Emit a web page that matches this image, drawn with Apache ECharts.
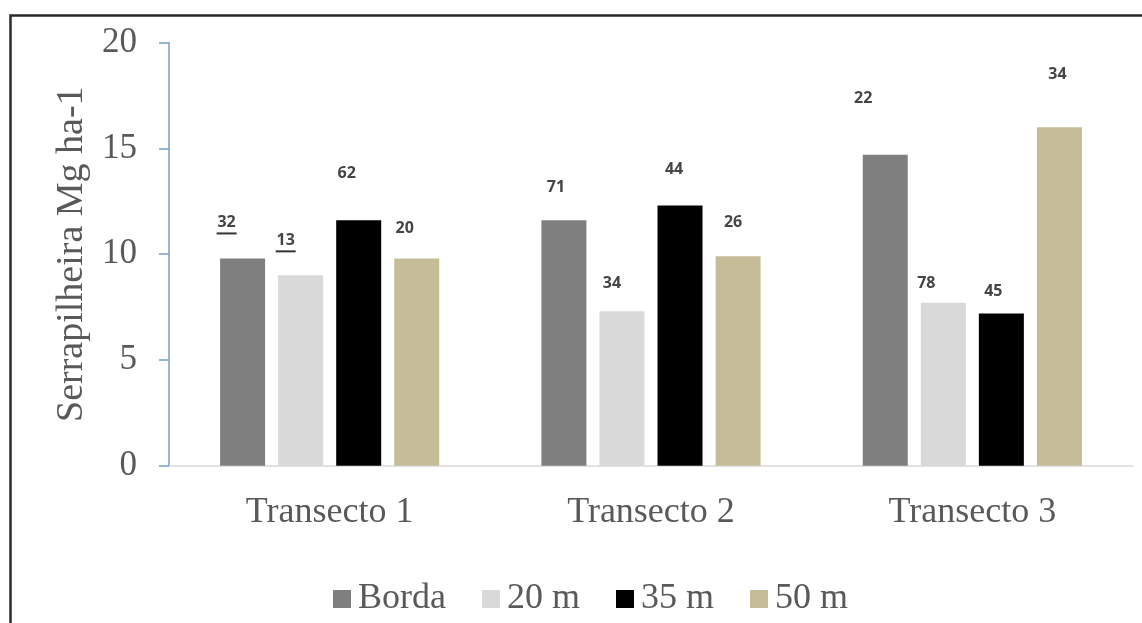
<!DOCTYPE html>
<html>
<head>
<meta charset="utf-8">
<script src="https://cdn.jsdelivr.net/npm/echarts@6/dist/echarts.min.js"></script>
<style>
html,body{margin:0;padding:0;background:#fff;}
#c{width:1142px;height:623px;}
</style>
</head>
<body>
<div id="c"></div>
<script>
// ---- data ----
const categories = ['Transecto 1', 'Transecto 2', 'Transecto 3'];
const seriesNames = ['Borda', '20 m', '35 m', '50 m'];
const bordaValues = [9.8, 11.6, 14.7];
const m20Values = [9.0, 7.3, 7.7];
const m35Values = [11.6, 12.3, 7.2];
const m50Values = [9.8, 9.9, 16.0];
const yTicks = [0, 5, 10, 15, 20];
// text labels printed above bars
const bordaLabels = ['32', '71', '22'];
const m20Labels = ['13', '34', '78'];
const m35Labels = ['62', '44', '45'];
const m50Labels = ['20', '26', '34'];
const bordaUnderline = [true, false, false];
const m20Underline = [true, false, false];
const m35Underline = [false, false, false];
const m50Underline = [false, false, false];

// ---- styles (label offsets in px) ----
const bordaOffsets = [[-16, -22], [-8, -25], [-22, -48]];
const m20Offsets = [[-15, -21], [-10, -20], [-17, -11]];
const m35Offsets = [[-12, -39], [-6, -28], [-8, -14]];
const m50Offsets = [[-12, -22], [-5, -26], [-2, -45]];
const colors = ['#7f7f7f', '#d9d9d9', '#000000', '#c4bd97'];

function makeSeries(name, values, labels, underline, offsets, color) {
  return {
    name: name,
    type: 'bar',
    barWidth: 45,
    barGap: '29%',
    itemStyle: { color: color },
    data: values.map((v, i) => ({
      value: v,
      label: {
        show: true,
        position: 'top',
        distance: 0,
        offset: offsets[i],
        formatter: underline[i] ? '{t|' + labels[i] + '}\n{u| }' : '{t|' + labels[i] + '}',
        rich: {
          t: { fontFamily: 'Open Sans', fontSize: 16, fontWeight: 'bold', color: '#454545', lineHeight: 16, align: 'center' },
          u: { width: 20, height: 2, lineHeight: 6, backgroundColor: '#333', align: 'center' }
        }
      }
    }))
  };
}

const chart = echarts.init(document.getElementById('c'));
chart.setOption({
  backgroundColor: '#ffffff',
  animation: false,
  graphic: [{
    type: 'rect',
    shape: { x: 10.5, y: 15.5, width: 1300, height: 800 },
    style: { fill: 'none', stroke: '#2a2a2a', lineWidth: 2.5 },
    silent: true,
    z: 100
  }],
  legend: {
    data: seriesNames,
    left: 328,
    top: 576,
    itemWidth: 18,
    itemHeight: 18,
    itemGap: 36,
    icon: 'rect',
    textStyle: { fontFamily: 'Liberation Serif', fontSize: 36, color: '#595959', lineHeight: 36, padding: [0, 0, 0, 2] }
  },
  grid: { left: 169, right: 9, top: 42.7, bottom: 157.3, containLabel: false },
  xAxis: {
    type: 'category',
    data: categories,
    axisLine: { lineStyle: { color: '#d9d9d9', width: 1.5 } },
    axisTick: { show: false },
    axisLabel: { fontFamily: 'Liberation Serif', fontSize: 36, color: '#595959', margin: 29 }
  },
  yAxis: {
    type: 'value',
    min: yTicks[0],
    max: yTicks[yTicks.length - 1],
    interval: yTicks[1] - yTicks[0],
    name: 'Serrapilheira Mg ha-1',
    nameLocation: 'middle',
    nameGap: 74,
    nameRotate: 90,
    nameTextStyle: { fontFamily: 'Liberation Serif', fontSize: 38, color: '#595959' },
    axisLine: { show: true, lineStyle: { color: '#7a9cc6', width: 1.5 } },
    axisTick: { show: true, inside: false, length: 10, lineStyle: { color: '#7a9cc6', width: 1.5 } },
    splitLine: { show: false },
    axisLabel: { fontFamily: 'Liberation Serif', fontSize: 35, color: '#595959', margin: 32 }
  },
  series: [
    makeSeries(seriesNames[0], bordaValues, bordaLabels, bordaUnderline, bordaOffsets, colors[0]),
    makeSeries(seriesNames[1], m20Values, m20Labels, m20Underline, m20Offsets, colors[1]),
    makeSeries(seriesNames[2], m35Values, m35Labels, m35Underline, m35Offsets, colors[2]),
    makeSeries(seriesNames[3], m50Values, m50Labels, m50Underline, m50Offsets, colors[3])
  ]
});
</script>
</body>
</html>
